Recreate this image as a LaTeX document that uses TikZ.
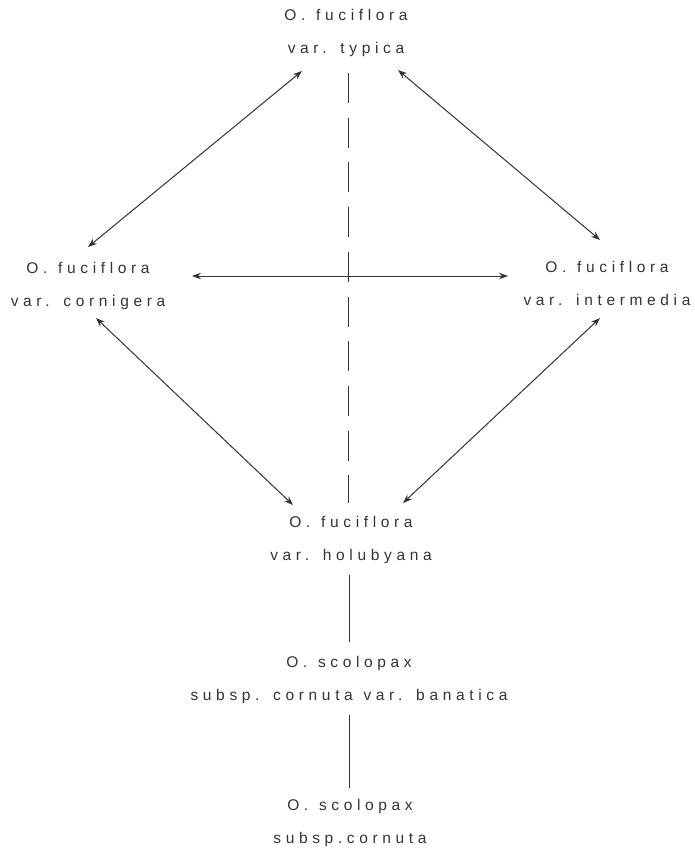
\documentclass[tikz,border=0pt]{standalone}
\usepackage{fontspec}
\setmainfont{Liberation Sans}[LetterSpace=30,WordSpace=1.2]
\usetikzlibrary{arrows.meta}

\begin{document}
\begin{tikzpicture}[x=1pt,y=-1pt,
    taxon/.style={align=center,inner sep=0pt,text=black!80,
      font=\fontsize{15.5}{33}\selectfont},
    link/.style={draw=black!80,line width=1pt,
      {Stealth[length=9pt,width=6.5pt]}-{Stealth[length=9pt,width=6.5pt]}},
    stem/.style={draw=black!80,line width=0.9pt}]
\useasboundingbox (0,0) rectangle (695,851);

\node[taxon] (typica)     at (346,33)  {O. fuciflora\\var. typica};
\node[taxon] (cornigera)  at (88,286)  {O. fuciflora\\var. cornigera};
\node[taxon] (intermedia) at (607,283) {O. fuciflora\\var. intermedia};
\node[taxon] (holubyana)  at (351,540) {O. fuciflora\\var. holubyana};
\node[taxon] (banatica)   at (349,680) {O. scolopax\\subsp. cornuta var. banatica};
\node[taxon] (cornuta)    at (350,823) {O. scolopax\\subsp.cornuta};

% crosses between the varieties
\draw[link] ([shift={(-44,38)}]typica.center) -- ([shift={(0,-39)}]cornigera.center);
\draw[link] ([shift={(52,37)}]typica.center) -- ([shift={(-7,-43)}]intermedia.center);
\draw[link] ([shift={(104,-10)}]cornigera.center) -- ([shift={(-99,-7)}]intermedia.center);
\draw[link] ([shift={(8,32)}]cornigera.center) -- ([shift={(-58,-35)}]holubyana.center);
\draw[link] ([shift={(-7,35)}]intermedia.center) -- ([shift={(52,-37)}]holubyana.center);

% descent line
\draw[stem,dash pattern=on 30pt off 14.7pt] ([shift={(2,40)}]typica.center) -- ([shift={(-3,-37)}]holubyana.center);
\draw[stem] ([shift={(-2,35)}]holubyana.center) -- ([shift={(0,-38)}]banatica.center);
\draw[stem] ([shift={(0,35)}]banatica.center) -- ([shift={(-1,-35)}]cornuta.center);
\end{tikzpicture}
\end{document}
